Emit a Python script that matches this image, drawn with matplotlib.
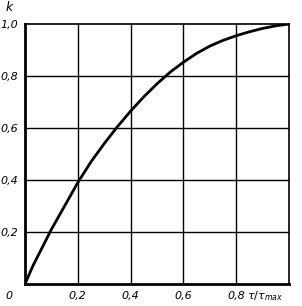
import numpy as np
import matplotlib.pyplot as plt

# k as a function of tau/tau_max
tau = [0, 0.03, 0.06, 0.1, 0.15, 0.2, 0.25, 0.3, 0.35, 0.4, 0.45, 0.5,
       0.55, 0.6, 0.65, 0.7, 0.75, 0.8, 0.85, 0.9, 0.95, 1.0]
k = [0, 0.07, 0.13, 0.21, 0.30, 0.39, 0.47, 0.54, 0.605, 0.665, 0.72, 0.77,
     0.815, 0.853, 0.887, 0.915, 0.937, 0.955, 0.97, 0.983, 0.993, 1.0]

x_ticks = [0.2, 0.4, 0.6, 0.8]
x_labels = ['0,2', '0,4', '0,6', '0,8']
y_ticks = [0.2, 0.4, 0.6, 0.8, 1.0]
y_labels = ['0,2', '0,4', '0,6', '0,8', '1,0']

plt.rcParams['font.family'] = ['DejaVu Sans']
fig = plt.figure(figsize=(3.02, 3.06), dpi=100)
ax = fig.add_axes([25/302, 22/306, 264/302, 260/306])

ax.plot(tau, k, color='black', lw=2.0, solid_capstyle='butt')

ax.set_xlim(0, 1)
ax.set_ylim(0, 1)
for v in x_ticks:
    ax.axvline(v, color='black', lw=1.0)
for v in y_ticks[:-1]:
    ax.axhline(v, color='black', lw=1.0)

ax.set_xticks(x_ticks)
ax.set_xticklabels(x_labels, style='italic', fontsize=8)
ax.set_yticks(y_ticks)
ax.set_yticklabels(y_labels, style='italic', fontsize=8)
ax.tick_params(length=0, pad=5)

for side in ['left', 'bottom']:
    ax.spines[side].set_linewidth(2.0)
for side in ['top', 'right']:
    ax.spines[side].set_linewidth(1.2)

ax.text(-0.06, -0.046, '0', transform=ax.transAxes, style='italic',
        fontsize=8, ha='center', va='center')
ax.text(0.91, -0.046, r'$\mathit{\tau/\tau_{max}}$', transform=ax.transAxes,
        fontsize=8, ha='center', va='center')
ax.text(-0.06, 1.04, 'k', transform=ax.transAxes, style='italic',
        fontsize=9, ha='center', va='bottom')

fig.savefig('out.png', dpi=100)
